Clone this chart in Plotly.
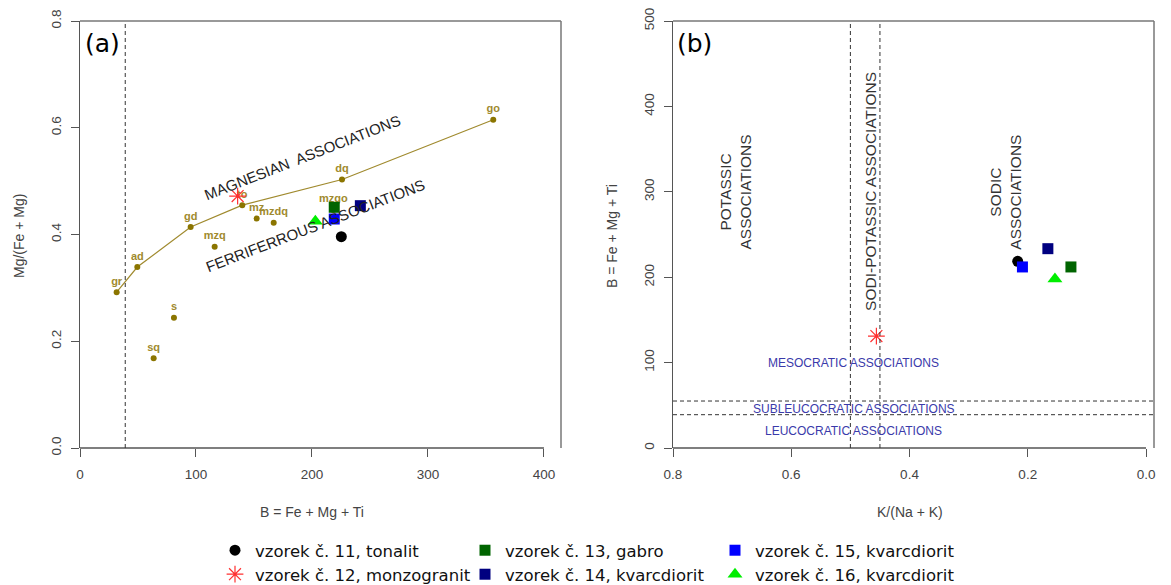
import plotly.graph_objects as go

# ---------------- data ----------------
# Panel (a): reference rock types (Debon & Le Fort) B vs Mg/(Fe+Mg)
ref_labels = ["gr", "ad", "gd", "to", "mz", "mzdq", "mzq", "dq", "s", "sq", "mzgo", "go"]
ref_B = [31.6, 49.4, 95.4, 139.9, 152.3, 167.0, 116.1, 225.9, 81.0, 63.5, 218.4, 356.3]
ref_mg = [0.292, 0.339, 0.414, 0.455, 0.430, 0.422, 0.377, 0.503, 0.244, 0.168, 0.446, 0.615]
curve_labels = ["gr", "ad", "gd", "to", "dq", "go"]

# samples
sample_names = ["vzorek č. 11, tonalit", "vzorek č. 12, monzogranit", "vzorek č. 13, gabro",
                "vzorek č. 14, kvarcdiorit", "vzorek č. 15, kvarcdiorit", "vzorek č. 16, kvarcdiorit"]
sample_B_a = [225.3, 135.9, 219.2, 241.7, 219.2, 202.9]
sample_mg_a = [0.396, 0.472, 0.451, 0.454, 0.429, 0.425]
sample_K_b = [0.217, 0.456, 0.127, 0.166, 0.209, 0.154]
sample_B_b = [218.6, 131.1, 212.0, 233.4, 212.0, 197.9]

sample_symbols = ["circle", "asterisk-open", "square", "square", "square", "triangle-up"]
sample_colors = ["#000000", "#FF3030", "#006400", "#000080", "#0000FF", "#00EE00"]
sample_sizes = [11, 14, 11, 11, 11, 13]
legend_row = ["legend", "legend2", "legend", "legend2", "legend", "legend2"]
legend_rank = [1, 1, 2, 2, 3, 3]

# thresholds
a_B_limit = 39
b_K_limits = [0.5, 0.45]
b_B_limits = [55, 39]

# ticks
a_xticks = [0, 100, 200, 300, 400]
a_yticks = [0.0, 0.2, 0.4, 0.6, 0.8]
b_xticks = [0.8, 0.6, 0.4, 0.2, 0.0]
b_yticks = [0, 100, 200, 300, 400, 500]

W, H = 1171, 585
AX = "#555555"
TXT = "#444444"
FONT = "Liberation Sans"

fig = go.Figure()

# ---- panel (a) reference curve and points
cx = [ref_B[ref_labels.index(l)] for l in curve_labels]
cy = [ref_mg[ref_labels.index(l)] for l in curve_labels]
fig.add_trace(go.Scatter(x=cx, y=cy, mode="lines", line=dict(color="#A08A2E", width=1.2),
                         showlegend=False, hoverinfo="skip", xaxis="x", yaxis="y"))
fig.add_trace(go.Scatter(x=ref_B, y=ref_mg, mode="markers+text", text=ref_labels,
                         textposition="top center",
                         textfont=dict(family=FONT, size=11, color="#A08A2E", weight="bold"),
                         marker=dict(color="#8B7500", size=6), showlegend=False,
                         xaxis="x", yaxis="y"))

# ---- samples in both panels
for i, name in enumerate(sample_names):
    sym = sample_symbols[i]
    mk = dict(symbol=sym, color=sample_colors[i], size=sample_sizes[i])
    if sym == "asterisk-open":
        mk["line"] = dict(color=sample_colors[i], width=1.2)
    else:
        mk["line"] = dict(width=0)
    fig.add_trace(go.Scatter(x=[sample_B_a[i]], y=[sample_mg_a[i]], mode="markers", marker=mk,
                             name=name, legend=legend_row[i], legendrank=legend_rank[i],
                             showlegend=True, xaxis="x", yaxis="y"))
    fig.add_trace(go.Scatter(x=[sample_K_b[i]], y=[sample_B_b[i]], mode="markers", marker=mk,
                             name=name, showlegend=False,
                             xaxis="x2", yaxis="y2"))

# ---------------- axes ----------------
ydom = [(H - 448) / H, (H - 21) / H]
common = dict(showgrid=False, zeroline=False, ticks="outside", ticklen=8, tickwidth=1.3,
              tickcolor=AX, tickfont=dict(family=FONT, size=13.5, color=TXT), automargin=False)
fig.update_layout(
    xaxis=dict(domain=[80 / W, 561 / W], range=[0, 414.7], tickvals=a_xticks,
               ticktext=[str(v) for v in a_xticks], showline=False, anchor="y",
               ticklabelstandoff=6, **common),
    yaxis=dict(domain=ydom, range=[0, 0.8], tickvals=a_yticks,
               ticktext=["%.1f" % v for v in a_yticks], tickangle=-90, showline=True,
               linecolor=AX, linewidth=1.3, anchor="x", ticklabelstandoff=4, **common),
    xaxis2=dict(domain=[673 / W, 1154 / W], range=[0.8, -0.0135], tickvals=b_xticks,
                ticktext=["%.1f" % v for v in b_xticks], showline=False, anchor="y2",
                ticklabelstandoff=6, **common),
    yaxis2=dict(domain=ydom, range=[0, 500], tickvals=b_yticks,
                ticktext=[str(v) for v in b_yticks], tickangle=-90, showline=True,
                linecolor=AX, linewidth=1.3, anchor="x2", ticklabelstandoff=4, **common),
)

shapes = []
# box top/right and bottom axis lines
for xr, yr, ticks in (("x", "y", a_xticks), ("x2", "y2", b_xticks)):
    shapes.append(dict(type="line", xref=xr + " domain", yref=yr + " domain", x0=0, x1=1, y0=1, y1=1,
                       line=dict(color="#777777", width=1.5)))
    shapes.append(dict(type="line", xref=xr + " domain", yref=yr + " domain", x0=1, x1=1, y0=0, y1=1,
                       line=dict(color="#777777", width=1.5)))
    shapes.append(dict(type="line", xref=xr, yref=yr + " domain", x0=min(ticks), x1=max(ticks),
                       y0=0, y1=0, line=dict(color=AX, width=1.3)))
DASH = dict(color="#333333", width=1, dash="4px,3px")
shapes.append(dict(type="line", xref="x", yref="y domain", x0=a_B_limit, x1=a_B_limit, y0=0, y1=1, line=DASH))
for k in b_K_limits:
    shapes.append(dict(type="line", xref="x2", yref="y2 domain", x0=k, x1=k, y0=0, y1=1, line=DASH))
for b in b_B_limits:
    shapes.append(dict(type="line", xref="x2 domain", yref="y2", x0=0, x1=1, y0=b, y1=b, line=DASH))
fig.update_layout(shapes=shapes)

C = dict(xanchor="center", yanchor="middle", showarrow=False)
ann = []
# panel letters
ann.append(dict(text="(a)", xref="paper", yref="paper", x=83 / W, y=(H - 44) / H, xanchor="left",
                yanchor="middle", showarrow=False, font=dict(family="DejaVu Sans", size=25, color="#000")))
ann.append(dict(text="(b)", xref="paper", yref="paper", x=675 / W, y=(H - 44) / H, xanchor="left",
                yanchor="middle", showarrow=False, font=dict(family="DejaVu Sans", size=25, color="#000")))
# axis titles
tf = dict(family=FONT, size=14, color=TXT)
ann.append(dict(text="B = Fe + Mg + Ti", xref="paper", yref="paper", x=312 / W, y=(H - 512) / H,
                font=tf, **C))
ann.append(dict(text="Mg/(Fe + Mg)", xref="paper", yref="paper", x=19 / W, y=(H - 236) / H,
                textangle=-90, font=tf, **C))
ann.append(dict(text="K/(Na + K)", xref="paper", yref="paper", x=910 / W, y=(H - 512) / H,
                font=tf, **C))
ann.append(dict(text="B = Fe + Mg + Ti", xref="paper", yref="paper", x=612 / W, y=(H - 236) / H,
                textangle=-90, font=tf, **C))
# field labels panel (a)
ff = dict(family=FONT, size=15, color="#222222")
ann.append(dict(text="MAGNESIAN  ASSOCIATIONS", xref="x", yref="y", x=191.4, y=0.544,
                textangle=-21.3, font=ff, **C))
ann.append(dict(text="FERRIFERROUS ASSOCIATIONS", xref="x", yref="y", x=203.2, y=0.416,
                textangle=-21.0, font=ff, **C))
# field labels panel (b)
fb = dict(family=FONT, size=15.5, color="#333333")
ann.append(dict(text="POTASSIC<br>ASSOCIATIONS", xref="x2", yref="y2", x=0.694, y=300,
                textangle=-90, font=fb, **C))
ann.append(dict(text="SODI-POTASSIC ASSOCIATIONS", xref="x2", yref="y2", x=0.465, y=300,
                textangle=-90, font=fb, **C))
ann.append(dict(text="SODIC<br>ASSOCIATIONS", xref="x2", yref="y2", x=0.237, y=300,
                textangle=-90, font=fb, **C))
fbl = dict(family=FONT, size=12, color="#3A3AAA")
ann.append(dict(text="MESOCRATIC ASSOCIATIONS", xref="x2", yref="y2", x=0.494, y=99,
                font=fbl, **C))
ann.append(dict(text="SUBLEUCOCRATIC ASSOCIATIONS", xref="x2", yref="y2", x=0.494, y=46,
                font=fbl, **C))
ann.append(dict(text="LEUCOCRATIC ASSOCIATIONS", xref="x2", yref="y2", x=0.494, y=19.5,
                font=fbl, **C))
fig.update_layout(annotations=ann)

leg_common = dict(orientation="h", xanchor="left", yanchor="top", traceorder="normal",
                  entrywidth=205, entrywidthmode="pixels", itemwidth=30,
                  font=dict(family="DejaVu Sans", size=16.5, color="#111111"),
                  bgcolor="rgba(0,0,0,0)")
fig.update_layout(
    width=W, height=H, margin=dict(l=0, r=0, t=0, b=0, autoexpand=False),
    paper_bgcolor="white", plot_bgcolor="white",
    legend=dict(x=215 / W, y=(H - 533) / H, **leg_common),
    legend2=dict(x=215 / W, y=(H - 557) / H, **leg_common),
)

fig.write_html("out.html")
